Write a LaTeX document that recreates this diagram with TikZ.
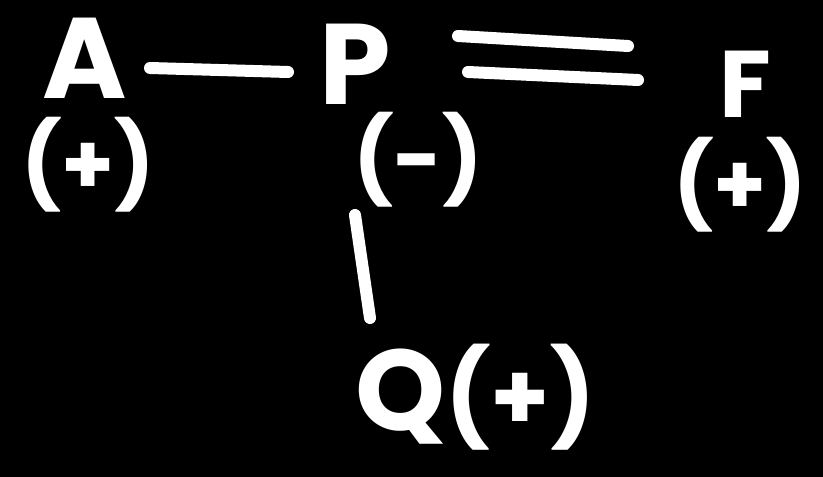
\documentclass[tikz,border=0pt]{standalone}
\usepackage{fontspec}
\setmainfont{Poppins}
\begin{document}
\begin{tikzpicture}[x=1bp,y=-1bp,
  lbl/.style={text=white,font=\fontsize{115}{115}\selectfont\bfseries,inner sep=0pt},
  sgn/.style={text=white,font=\fontsize{85}{85}\selectfont\bfseries,inner sep=0pt},
  bond/.style={white,line width=12bp,line cap=round}]
\fill[black] (0,0) rectangle (823,477);
\useasboundingbox (0,0) rectangle (823,477);
\node[lbl] (A) at (85,58) {A};
\node[sgn] (As) at (88,165) {(+)};
\node[lbl] (P) at (355,64) {P};
\node[sgn] (Ps) at (418,160) {(-)};
\node[lbl,font=\fontsize{95}{95}\selectfont\bfseries] (F) at (745,84) {F};
\node[sgn] (Fs) at (740,185) {(+)};
\node[lbl,anchor=base west] (Q) at (355,430) {Q\fontsize{95}{95}\selectfont(+)};
\coordinate (a1) at (150,68); \coordinate (a2) at (288,72);
\draw[bond] (a1) -- (a2);
\coordinate (d1) at (458,36); \coordinate (d2) at (628,46);
\coordinate (d3) at (468,72); \coordinate (d4) at (638,80);
\draw[bond] (d1) -- (d2);
\draw[bond] (d3) -- (d4);
\coordinate (v1) at (355,215); \coordinate (v2) at (370,318);
\draw[bond] (v1) -- (v2);
\end{tikzpicture}
\end{document}
